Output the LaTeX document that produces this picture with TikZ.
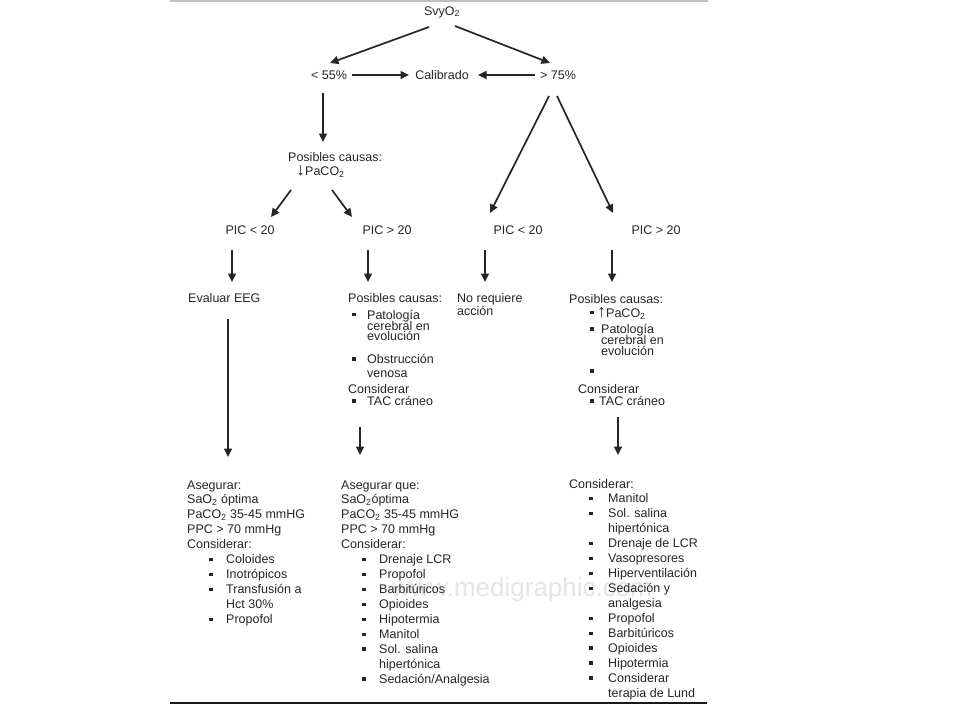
\documentclass[tikz,border=0pt]{standalone}
\usepackage{fontspec}
\setmainfont{Liberation Sans}
\usetikzlibrary{calc}
\usetikzlibrary{arrows.meta}
\newcommand{\bul}{\rule[2.6pt]{3.4pt}{3.4pt}}
\newcommand{\itm}[2] % indent, gap to text
{\hspace*{#1}\makebox[#2][l]{\bul}}
\newcommand{\blk}[1] % lines, first baseline at node base
{\begin{tabular}[t]{@{}l@{}}#1\end{tabular}}
\newcommand{\bigar}[1]{{\fontsize{18}{18}\selectfont #1}}

\begin{document}
\begin{tikzpicture}[x=1pt, y=-1pt,
	every node/.style={inner sep=0pt, text=black!85, font=\fontsize{12.5}{14.95}\selectfont},
	lbl/.style={anchor=base},
	lst/.style={anchor=base west},
	arr/.style={draw=black!85, line width=1.7pt, -{Triangle[length=8.5pt,width=8pt]}}]
	\fill[white] (0,0) rectangle (960,720);
	\useasboundingbox (0,0) rectangle (960,720);
	% page edges
	\draw[black!25, line width=2pt] (170,1) -- (708,1);
	\draw[black!90, line width=1.4pt] (170,703) -- (707,703);
	% watermark
	\node[lbl, text=black!10, font=\fontsize{26}{26}\selectfont] (wm) at (522,596) {www.medigraphic.com};
	
	% top levels
	\node[lbl] (svy) at (442,15) {SvyO\textsubscript{2}};
	\node[lbl] (lo55) at (329,79) {< 55\%};
	\node[lbl] (cal) at (442,79) {Calibrado};
	\node[lbl] (hi75) at (558,79) {> 75\%};
	\node[lst] (pc1) at (288,161) {\blk{Posibles causas:\\[-0.9pt]
		\hspace*{8pt}\bigar{↓}PaCO\textsubscript{2}}};
	\node[lbl] (pic1) at (250,234) {PIC < 20};
	\node[lbl] (pic2) at (387,234) {PIC > 20};
	\node[lbl] (pic3) at (518,234) {PIC < 20};
	\node[lbl] (pic4) at (656,234) {PIC > 20};
	
	% middle
	\node[lst] (eeg) at (188,302) {Evaluar EEG};
	\node[lst] (pc2) at (348,302) {\blk{Posibles causas:\\[2.1pt]
		\itm{4pt}{15pt}Patología\\[-3.9pt]
		\hspace*{19pt}cerebral en\\[-4.9pt]
		\hspace*{19pt}evolución\\[8.1pt]
		\itm{4pt}{15pt}Obstrucción\\[-0.9pt]
		\hspace*{19pt}venosa\\[1.1pt]
		Considerar\\[-2.9pt]
		\itm{4pt}{15pt}TAC cráneo}};
	\node[lst] (noreq) at (457,302) {\blk{No requiere\\[-1.9pt] acción}};
	\node[lst] (pc3) at (569,303) {\blk{Posibles causas:\\[-0.9pt]
		\itm{21pt}{7pt}\bigar{↑}PaCO\textsubscript{2}\\[1.1pt]
		\itm{21pt}{11pt}Patología\\[-3.9pt]
		\hspace*{32pt}cerebral en\\[-3.9pt]
		\hspace*{32pt}evolución\\[5.1pt]
		\itm{21pt}{0pt}\\[3.1pt]
		\hspace*{9pt}Considerar\\[-2.9pt]
		\itm{21pt}{9pt}TAC cráneo}};
	
	% bottom lists
	\node[lst] (as1) at (187,489) {\blk{Asegurar:\\
		SaO\textsubscript{2} óptima\\
		PaCO\textsubscript{2} 35-45 mmHG\\
		PPC > 70 mmHg\\
		Considerar:\\
		\itm{22pt}{17pt}Coloides\\
		\itm{22pt}{17pt}Inotrópicos\\
		\itm{22pt}{17pt}Transfusión a\\
		\hspace*{39pt}Hct 30\%\\
		\itm{22pt}{17pt}Propofol}};
	\node[lst] (as2) at (341,489) {\blk{Asegurar que:\\
		SaO\textsubscript{2}óptima\\
		PaCO\textsubscript{2} 35-45 mmHG\\
		PPC > 70 mmHg\\
		Considerar:\\
		\itm{21pt}{17pt}Drenaje LCR\\
		\itm{21pt}{17pt}Propofol\\
		\itm{21pt}{17pt}Barbitúricos\\
		\itm{21pt}{17pt}Opioides\\
		\itm{21pt}{17pt}Hipotermia\\
		\itm{21pt}{17pt}Manitol\\
		\itm{21pt}{17pt}Sol. salina\\
		\hspace*{38pt}hipertónica\\
		\itm{21pt}{17pt}Sedación/Analgesia}};
	\node[lst] (con3) at (569,488) {\blk{Considerar:\\
		\itm{20pt}{19pt}Manitol\\
		\itm{20pt}{19pt}Sol. salina\\
		\hspace*{39pt}hipertónica\\
		\itm{20pt}{19pt}Drenaje de LCR\\
		\itm{20pt}{19pt}Vasopresores\\
		\itm{20pt}{19pt}Hiperventilación\\
		\itm{20pt}{19pt}Sedación y\\
		\hspace*{39pt}analgesia\\
		\itm{20pt}{19pt}Propofol\\
		\itm{20pt}{19pt}Barbitúricos\\
		\itm{20pt}{19pt}Opioides\\
		\itm{20pt}{19pt}Hipotermia\\
		\itm{20pt}{19pt}Considerar\\
		\hspace*{39pt}terapia de Lund}};
	
	% arrows
	\draw[arr] ($(svy.base)+(-13,12)$) -- ($(lo55.base)+(1,-16)$);
	\draw[arr] ($(svy.base)+(13,11)$) -- ($(hi75.base)+(-8,-16)$);
	\draw[arr] ($(lo55.base)+(23,-4)$) -- ($(cal.base)+(-33,-4)$);
	\draw[arr] ($(hi75.base)+(-23,-4)$) -- ($(cal.base)+(36,-4)$);
	\draw[arr] ($(lo55.base)+(-6,14)$) -- ($(pc1.base west)+(35,-19)$);
	\draw[arr] ($(pc1.base west)+(3,29)$) -- ($(pic1.base)+(21,-17)$);
	\draw[arr] ($(pc1.base west)+(44,29)$) -- ($(pic2.base)+(-35,-17)$);
	\draw[arr] ($(hi75.base)+(-9,17)$) -- ($(pic3.base)+(-28,-21)$);
	\draw[arr] ($(hi75.base)+(-1,17)$) -- ($(pic4.base)+(-43,-21)$);
	\draw[arr] ($(pic1.base)+(-18,16)$) -- ($(eeg.base west)+(44,-20)$);
	\draw[arr] ($(pic2.base)+(-19,16)$) -- ($(pc2.base west)+(20,-20)$);
	\draw[arr] ($(pic3.base)+(-33,16)$) -- ($(noreq.base west)+(28,-20)$);
	\draw[arr] ($(pic4.base)+(-44,16)$) -- ($(pc3.base west)+(43,-21)$);
	\draw[arr] ($(eeg.base west)+(40,17)$) -- ($(as1.base west)+(41,-32)$);
	\draw[arr] ($(pc2.base west)+(12,125)$) -- ($(as2.base west)+(19,-34)$);
	\draw[arr] ($(pc3.base west)+(49,114)$) -- ($(con3.base west)+(49,-33)$);
\end{tikzpicture}
\end{document}
